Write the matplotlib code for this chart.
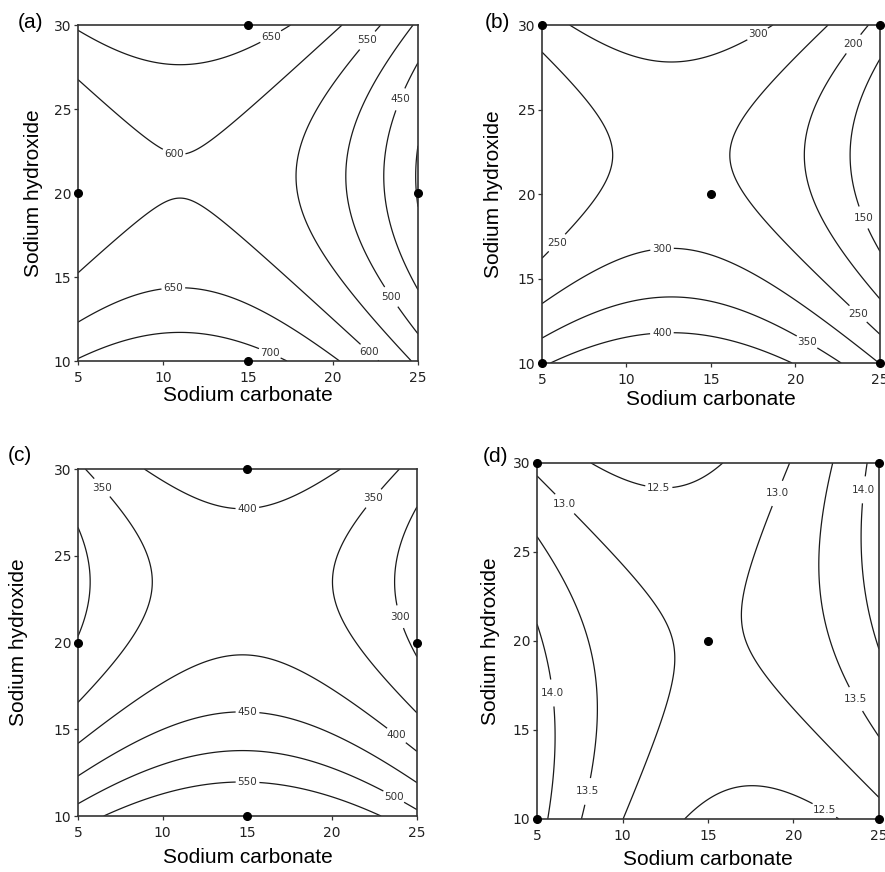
import numpy as np
import matplotlib
matplotlib.use("Agg")
import matplotlib.pyplot as plt

carbonate_ticks = [5, 10, 15, 20, 25]
hydroxide_ticks = [10, 15, 20, 25, 30]

# quadratic response surfaces in coded units x=(C-15)/10, y=(H-20)/10
# order: b0, b1 (carbonate), b2 (hydroxide), b11, b22, b12
coef_a = [582.7, -82.4, -23.6, -103.0, 118.0, 0.0]
coef_b = [263.1, -47.0, -57.5, -100.0, 125.0, 0.0]
coef_c = [392.8, -5.7, -91.0, -95.4, 130.0, 0.0]
coef_d = [12.95, -0.017, 0.025, 1.10, -0.54, 0.675]

levels_a = [400, 450, 500, 550, 600, 650, 700]
levels_b = [150, 200, 250, 300, 350, 400]
levels_c = [300, 350, 400, 450, 500, 550]
levels_d = [12.5, 13.0, 13.5, 14.0]

# design points shown as dots
pts_a_x = [15, 5, 25, 15]
pts_a_y = [30, 20, 20, 10]
pts_b_x = [5, 25, 15, 5, 25]
pts_b_y = [30, 30, 20, 10, 10]
pts_c_x = [15, 5, 25, 15]
pts_c_y = [30, 20, 20, 10]
pts_d_x = [5, 25, 15, 5, 25]
pts_d_y = [30, 30, 20, 10, 10]

panels = [
    dict(tag="(a)", coef=coef_a, levels=levels_a, px=pts_a_x, py=pts_a_y, fmt="%d",
         rect=[0.0881, 0.586, 0.3842, 0.3853], ylab=-0.103, xlab=-0.075,
         letter=(18, 13),
         labels=[(16.4, 29.2), (22.0, 29.1), (23.9, 25.6), (10.6, 22.2),
                 (10.6, 14.5), (23.4, 13.8), (16.3, 10.5), (22.3, 10.7)]),
    dict(tag="(b)", coef=coef_b, levels=levels_b, px=pts_b_x, py=pts_b_y, fmt="%d",
         rect=[0.6124, 0.5837, 0.3819, 0.3876], ylab=-0.115, xlab=-0.080,
         letter=(485, 13),
         labels=[(17.8, 29.4), (23.4, 28.9), (5.9, 17.1), (24.0, 18.6),
                 (12.1, 16.8), (23.6, 12.8), (12.1, 11.7), (20.6, 11.1)]),
    dict(tag="(c)", coef=coef_c, levels=levels_c, px=pts_c_x, py=pts_c_y, fmt="%d",
         rect=[0.0881, 0.0642, 0.3830, 0.3979], ylab=-0.147, xlab=-0.093,
         letter=(8, 446),
         labels=[(6.5, 29.0), (15.0, 27.6), (22.2, 28.5), (23.7, 21.4),
                 (15.0, 15.9), (23.6, 14.4), (15.0, 11.7), (23.4, 10.7)]),
    dict(tag="(d)", coef=coef_d, levels=levels_d, px=pts_d_x, py=pts_d_y, fmt="%.1f",
         rect=[0.6068, 0.0608, 0.3864, 0.4083], ylab=-0.108, xlab=-0.088,
         letter=(483, 447),
         labels=[(12.1, 28.3), (6.3, 27.4), (18.5, 28.5), (24.0, 28.5),
                 (6.1, 17.1), (23.4, 16.6), (8.2, 11.5), (22.0, 10.8)]),
]

W, H = 885, 872
fig = plt.figure(figsize=(W / 100, H / 100), dpi=100)

sc = np.linspace(5, 25, 401)
sh = np.linspace(10, 30, 401)
SC, SH = np.meshgrid(sc, sh)
x = (SC - 15) / 10
y = (SH - 20) / 10

for p in panels:
    ax = fig.add_axes(p["rect"])
    b0, b1, b2, b11, b22, b12 = p["coef"]
    z = b0 + b1 * x + b2 * y + b11 * x ** 2 + b22 * y ** 2 + b12 * x * y
    cs = ax.contour(SC, SH, z, levels=p["levels"], colors="#1a1a1a", linewidths=0.9)
    texts = ax.clabel(cs, manual=p["labels"], inline=True, inline_spacing=2,
                      fontsize=7.5, fmt=p["fmt"], colors="#333333")
    for t in texts:
        t.set_rotation(0)
    ax.plot(p["px"], p["py"], "o", color="black", markersize=5.5, clip_on=False, zorder=5)

    ax.set_xlim(5, 25)
    ax.set_ylim(10, 30)
    ax.set_xticks(carbonate_ticks)
    ax.set_yticks(hydroxide_ticks)
    ax.tick_params(direction="out", length=3, width=0.9, color="#333333",
                   labelsize=10, labelcolor="#222222")
    ax.tick_params(axis="x", pad=4)
    ax.tick_params(axis="y", pad=2)
    for s in ax.spines.values():
        s.set_linewidth(1.2)
        s.set_color("#333333")

    ax.set_xlabel("Sodium carbonate", fontsize=15, family="Liberation Sans")
    ax.set_ylabel("Sodium hydroxide", fontsize=15, family="Liberation Sans")
    ax.xaxis.set_label_coords(0.5, p["xlab"])
    ax.yaxis.set_label_coords(p["ylab"], 0.5)

    lx, ly = p["letter"]
    fig.text(lx / W, 1 - ly / H, p["tag"], fontsize=15, family="Liberation Sans",
             ha="left", va="top")

fig.savefig("out.png", dpi=100)
